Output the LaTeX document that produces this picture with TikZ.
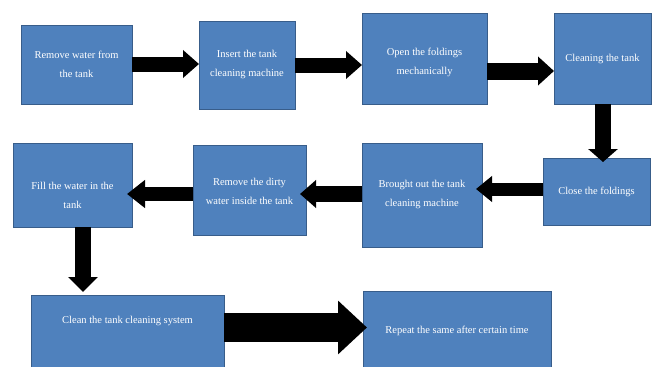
\documentclass[tikz,border=0pt]{standalone}
\usepackage{fontspec}
\setmainfont{Liberation Serif}
\usetikzlibrary{arrows.meta}
\definecolor{boxfill}{HTML}{4F81BD}
\definecolor{boxline}{HTML}{385D8A}
\tikzset{
  box/.style={draw=boxline, fill=boxfill, line width=0.8pt, inner sep=0pt, outer sep=0pt},
  txt/.style={text=white, align=center, inner sep=0pt, font=\fontsize{10.5}{19}\selectfont},
  flow/.style n args={3}{draw=black, line width=#1, -{Triangle[length=#2, width=#3]}}
}
\begin{document}
\begin{tikzpicture}[x=1pt, y=-1pt]
\useasboundingbox (0,0) rectangle (657,367);
\clip (0,0) rectangle (657,367);
\fill[white] (0,0) rectangle (657,367);
% boxes
\node[box, minimum width=111pt, minimum height=79pt] (b1) at (76.5,64.5) {};
\node[box, minimum width=96pt, minimum height=88pt] (b2) at (247,65) {};
\node[box, minimum width=125pt, minimum height=91pt] (b3) at (424.5,58.5) {};
\node[box, minimum width=97pt, minimum height=91pt] (b4) at (602.5,58.5) {};
\node[box, minimum width=107pt, minimum height=67pt] (b5) at (596.5,191.5) {};
\node[box, minimum width=120pt, minimum height=104pt] (b6) at (422,195) {};
\node[box, minimum width=113pt, minimum height=90pt] (b7) at (249.5,190) {};
\node[box, minimum width=119pt, minimum height=84pt] (b8) at (72.5,185) {};
\node[box, minimum width=193pt, minimum height=85pt] (b9) at (127.5,337.5) {};
\node[box, minimum width=188pt, minimum height=89pt] (b10) at (457,335.5) {};
% texts
\node[txt] (t1) at (76.5,64.5) {Remove water from\\the tank};
\node[txt] (t2) at (247,64.5) {Insert the tank\\cleaning machine};
\node[txt] (t3) at (424.5,62) {Open the foldings\\mechanically};
\node[txt] (t4) at (602.5,59) {Cleaning the tank};
\node[txt] (t5) at (596.5,192) {Close the foldings};
\node[txt] (t6) at (422,194.5) {Brought out the tank\\cleaning machine};
\node[txt] (t7) at (249.5,191.5) {Remove the dirty\\water inside the tank};
\node[txt] (t8) at (72.5,195) {Fill the water in the\\tank};
\node[txt] (t9) at (127.5,321) {Clean the tank cleaning system};
\node[txt] (t10) at (457,331) {Repeat the same after certain time};
% arrows
\draw[flow={15pt}{16pt}{27pt}] (b1.east |- 0,64) -- (b2.west |- 0,64);
\draw[flow={15pt}{16pt}{27pt}] (b2.east |- 0,65) -- (b3.west |- 0,65);
\draw[flow={17pt}{16pt}{28pt}] (b3.east |- 0,71) -- (b4.west |- 0,71);
\coordinate (a4end) at (603,162);
\draw[flow={16pt}{13pt}{29pt}] (b4.south -| 603,0) -- (a4end);
\draw[flow={13pt}{16pt}{25pt}] (b5.west |- 0,189) -- (476,189) coordinate (a5end);
\draw[flow={16pt}{16pt}{27pt}] (b6.west |- 0,194) -- (300,194) coordinate (a6end);
\draw[flow={14pt}{18pt}{27pt}] (b7.west |- 0,194) -- (127,194) coordinate (a7end);
\draw[flow={16pt}{15pt}{29pt}] (b8.south -| 83,0) -- (83,292) coordinate (a8end);
\draw[flow={29pt}{29pt}{52pt}] (b9.east |- 0,327.5) -- (367,327.5) coordinate (a9end);
\end{tikzpicture}
\end{document}
